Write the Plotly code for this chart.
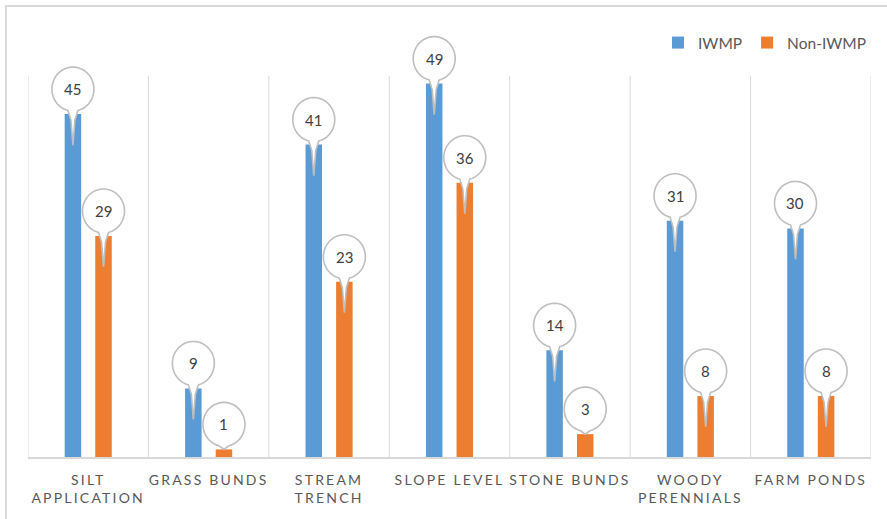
import numpy as np
import plotly.graph_objects as go

categories = ["SILT<br>APPLICATION", "GRASS BUNDS", "STREAM<br>TRENCH", "SLOPE LEVEL",
              "STONE BUNDS", "WOODY<br>PERENNIALS", "FARM PONDS"]
iwmp = [45, 9, 41, 49, 14, 31, 30]
non_iwmp = [29, 1, 23, 36, 3, 8, 8]
series_names = ["IWMP", "Non-IWMP"]
colors = ["#5B9BD5", "#ED7D31"]

W, H = 887, 519
ML, MR, MT, MB = 28, 16, 8, 62
YMAX = 50                      # value at the top of the category separators
px_per_unit = 381 / YMAX       # separators span 381 px
plot_h = H - MT - MB
plot_w = W - ML - MR
YTOP = plot_h / px_per_unit    # extended axis range so callouts are not clipped

x_idx = np.arange(len(categories))
offset = 0.127
bar_w = 0.137

fig = go.Figure()
for vals, name, col, sgn in [(iwmp, series_names[0], colors[0], -1),
                             (non_iwmp, series_names[1], colors[1], 1)]:
    fig.add_trace(go.Bar(x=x_idx + sgn * offset, y=vals, width=bar_w, name=name,
                         marker=dict(color=col, line=dict(width=0)), hoverinfo="y"))

shapes = []
# category separators
for b in np.arange(len(categories) + 1) - 0.5:
    shapes.append(dict(type="line", xref="x", yref="y", x0=b, x1=b, y0=0, y1=YMAX,
                       line=dict(color="#D9D9D9", width=1), layer="below"))
# outer chart border
shapes.append(dict(type="rect", xref="paper", yref="paper",
                   x0=(6 - ML) / plot_w, x1=(W + 10 - ML) / plot_w,
                   y0=(H - MB - (H + 10)) / plot_h, y1=(H - MB - 6) / plot_h,
                   line=dict(color="#D9D9D9", width=2), fillcolor="rgba(0,0,0,0)", layer="below"))


def balloon_path(bar_px):
    cy, rx, ry = 25.0, 21.0, 22.0
    d = np.arcsin(5.0 / rx)
    angs = np.linspace(-np.pi / 2 + d, 3 * np.pi / 2 - d, 60)
    pts = [(rx * np.cos(a), cy + ry * np.sin(a)) for a in angs]
    if bar_px > 34:
        pts += [(-2.0, -6.0), (0.0, -31.0), (2.0, -6.0)]
    else:
        pts += [(0.0, 0.0)]
    return "M " + " L ".join(f"{x:.2f},{y:.2f}" for x, y in pts) + " Z"


annotations = []
for vals, sgn in [(iwmp, -1), (non_iwmp, 1)]:
    for i, v in enumerate(vals):
        xv = i + sgn * offset
        shapes.append(dict(type="path", xsizemode="pixel", ysizemode="pixel",
                           xref="x", yref="y", xanchor=xv, yanchor=v,
                           path=balloon_path(v * px_per_unit),
                           fillcolor="white", line=dict(color="#BFBFBF", width=1.6),
                           layer="above"))
        annotations.append(dict(x=xv, y=v, xref="x", yref="y", text=str(v), showarrow=False,
                                yshift=25, font=dict(size=15, color="#404040", family="Lato")))

fig.update_layout(
    width=W, height=H,
    margin=dict(l=ML, r=MR, t=MT, b=MB),
    paper_bgcolor="white", plot_bgcolor="white",
    barmode="overlay",
    shapes=shapes, annotations=annotations,
    font=dict(family="Lato", color="#595959"),
    legend=dict(orientation="h", x=1.0, xanchor="right", y=(H - MB - 43) / plot_h,
                yanchor="middle", font=dict(size=15.5, color="#595959"),
                bgcolor="rgba(0,0,0,0)"),
    xaxis=dict(range=[-0.5, len(categories) - 0.5], tickmode="array", tickvals=x_idx,
               ticktext=categories, showgrid=False, zeroline=False, showline=True,
               linecolor="#D9D9D9", linewidth=1.5, ticks="", ticklabelstandoff=9,
               tickfont=dict(size=14, color="#595959", family="Lato"), fixedrange=True),
    yaxis=dict(range=[0, YTOP], visible=False, showgrid=False, zeroline=False, fixedrange=True),
)

post = ("var s=document.createElement('style');"
        "s.innerHTML='.xtick text{letter-spacing:2.2px;}';"
        "document.head.appendChild(s);")
fig.write_html("out.html", post_script=post)
